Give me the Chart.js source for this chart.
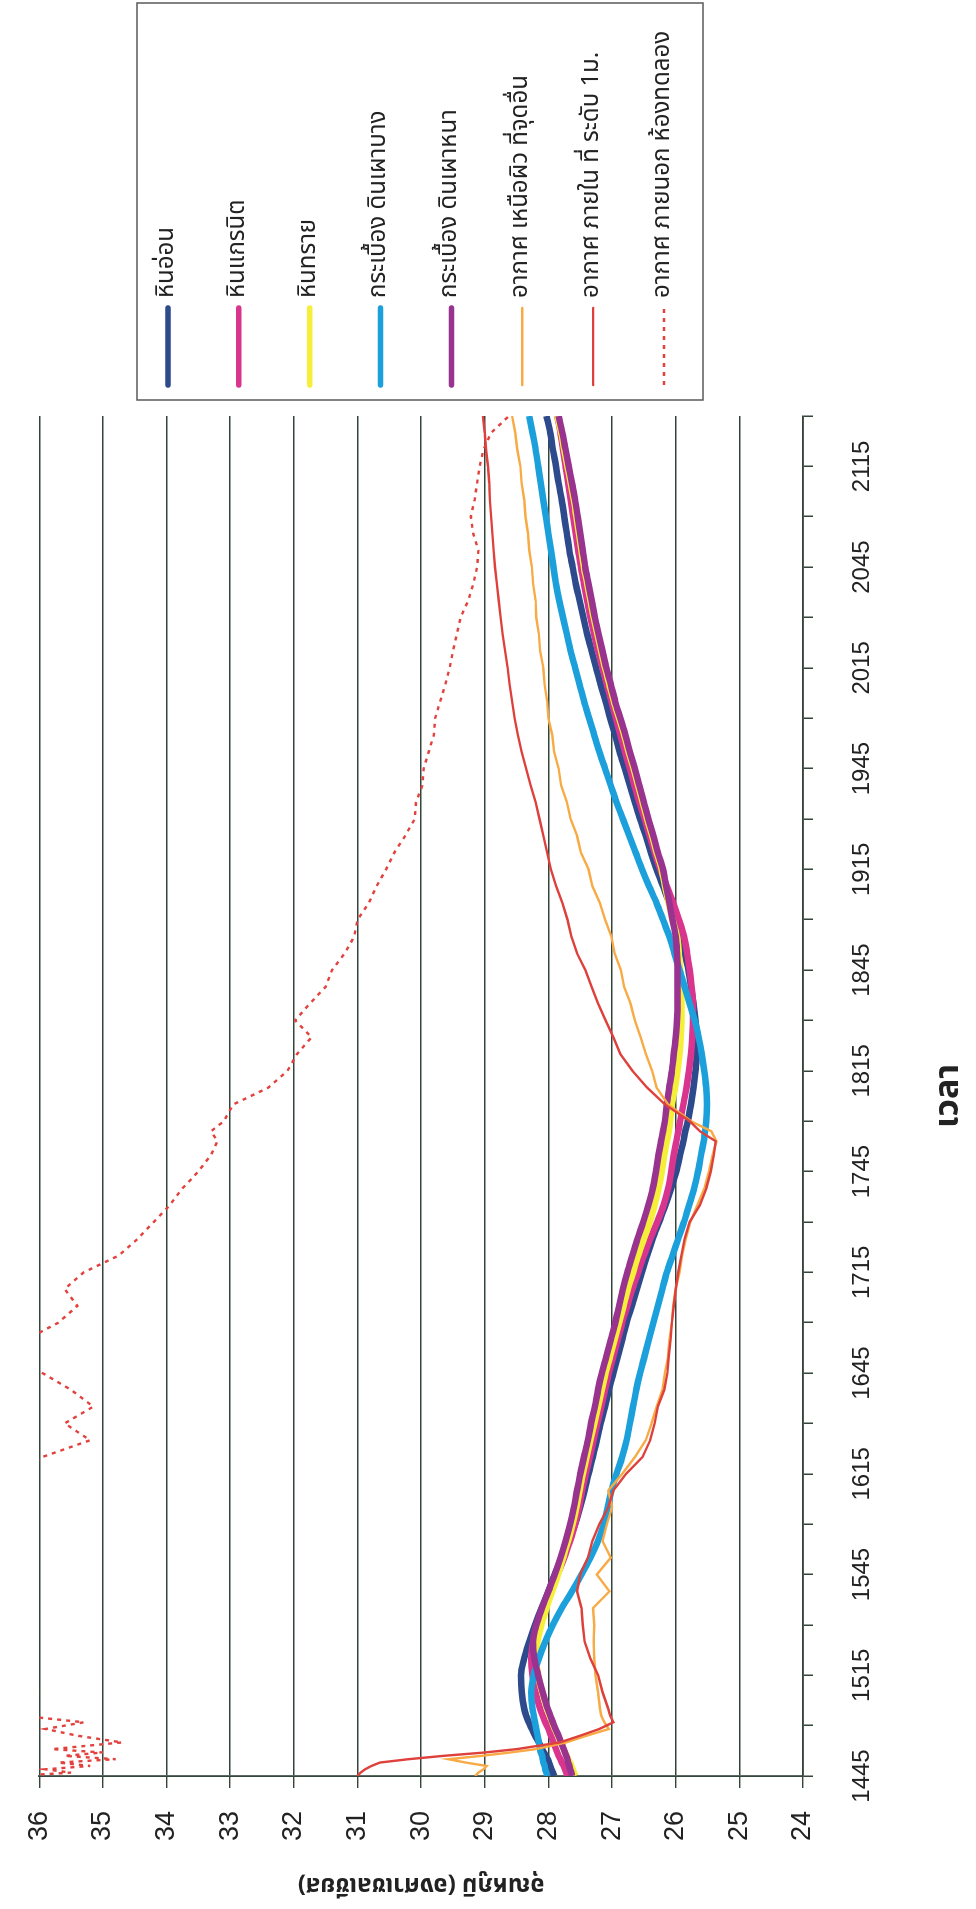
<!DOCTYPE html>
<html>
<head>
<meta charset="utf-8">
<title>อุณหภูมิ</title>
<script src="https://cdn.jsdelivr.net/npm/chart.js@4.4.0/dist/chart.umd.min.js"></script>
<style>
    html, body { margin: 0; padding: 0; background: #fff; overflow: hidden; }
    /* the chart is laid out landscape and turned a quarter to the left */
    #turn { position: absolute; left: 0; top: 0; width: 1909px; height: 976px;
            transform-origin: 0 0; transform: translateY(1909px) rotate(-90deg); }
</style>
</head>
<body>
<div id="turn"><canvas id="temp" width="1909" height="976"></canvas></div>
<script>
(function () {
    'use strict';

    // minutes after 14:45
    var minutes = [
        0, 1, 2, 3, 4, 5, 6, 7, 8,
        10, 12, 14, 16, 18, 20,
        25, 30, 35, 40, 45, 50, 55, 60, 65, 70,
        75, 80, 85, 90, 95, 100, 105, 110, 115, 120,
        125, 130, 135, 140, 145, 150, 155, 160, 165, 170,
        175, 180, 185, 189, 192, 195, 200, 205, 210, 215,
        220, 225, 230, 235, 240, 245, 250, 255, 260, 265,
        270, 275, 280, 285, 290, 295, 300, 305, 310, 315,
        320, 325, 330, 335, 340, 345, 350, 355, 360, 365,
        370, 375, 380, 385, 390, 395, 400, 405
    ];

    var timeTicks = ['1445', '1515', '1545', '1615', '1645', '1715', '1745',
                     '1815', '1845', '1915', '1945', '2015', '2045', '2115'];

    var marble = [
        27.91, 27.93, 27.95, 27.97, 27.99, 28.01, 28.04, 28.07, 28.10,
        28.15, 28.21, 28.26, 28.31, 28.35, 28.38,
        28.42, 28.43, 28.38, 28.30, 28.21, 28.11, 28.00, 27.90, 27.79, 27.68,
        27.58, 27.50, 27.43, 27.37, 27.30, 27.24, 27.18, 27.11, 27.05, 26.98,
        26.91, 26.84, 26.77, 26.69, 26.61, 26.53, 26.45, 26.36, 26.26, 26.16,
        26.07, 25.99, 25.93, 25.88, 25.85, 25.81, 25.76, 25.72, 25.69, 25.67,
        25.67, 25.69, 25.72, 25.76, 25.80, 25.86, 25.93, 26.01, 26.10, 26.20,
        26.30, 26.39, 26.47, 26.56, 26.64, 26.72, 26.80, 26.88, 26.95, 27.03,
        27.10, 27.18, 27.25, 27.32, 27.39, 27.45, 27.51, 27.57, 27.62, 27.67,
        27.71, 27.75, 27.79, 27.84, 27.88, 27.93, 27.97, 28.03
    ];

    var granite = [
        27.70, 27.72, 27.74, 27.76, 27.79, 27.81, 27.84, 27.86, 27.88,
        27.92, 27.96, 28.00, 28.05, 28.09, 28.13,
        28.20, 28.25, 28.27, 28.24, 28.18, 28.08, 27.97, 27.86, 27.75, 27.66,
        27.58, 27.52, 27.47, 27.41, 27.35, 27.29, 27.23, 27.17, 27.11, 27.05,
        26.98, 26.91, 26.84, 26.76, 26.68, 26.59, 26.50, 26.40, 26.29, 26.19,
        26.12, 26.07, 26.03, 25.99, 25.96, 25.93, 25.88, 25.83, 25.79, 25.76,
        25.74, 25.73, 25.73, 25.75, 25.78, 25.82, 25.87, 25.95, 26.04, 26.14,
        26.24, 26.33, 26.41, 26.49, 26.57, 26.65, 26.72, 26.80, 26.87, 26.94,
        27.01, 27.08, 27.15, 27.22, 27.28, 27.34, 27.39, 27.44, 27.49, 27.53,
        27.57, 27.61, 27.65, 27.69, 27.73, 27.77, 27.81, 27.86
    ];

    var sandstone = [
        27.58, 27.60, 27.62, 27.64, 27.66, 27.69, 27.71, 27.74, 27.76,
        27.80, 27.85, 27.90, 27.94, 27.98, 28.02,
        28.10, 28.16, 28.19, 28.17, 28.11, 28.03, 27.94, 27.85, 27.77, 27.69,
        27.62, 27.56, 27.51, 27.46, 27.40, 27.34, 27.28, 27.22, 27.16, 27.10,
        27.03, 26.96, 26.89, 26.82, 26.75, 26.67, 26.59, 26.50, 26.41, 26.33,
        26.27, 26.22, 26.18, 26.14, 26.11, 26.09, 26.06, 26.01, 25.97, 25.94,
        25.92, 25.91, 25.91, 25.92, 25.93, 25.95, 25.98, 26.05, 26.11, 26.17,
        26.22, 26.30, 26.37, 26.45, 26.52, 26.59, 26.66, 26.74, 26.81, 26.89,
        26.97, 27.04, 27.11, 27.17, 27.23, 27.29, 27.34, 27.39, 27.44, 27.48,
        27.52, 27.56, 27.60, 27.65, 27.70, 27.75, 27.80, 27.86
    ];

    var thinTile = [
        28.02, 28.03, 28.05, 28.06, 28.08, 28.09, 28.10, 28.12, 28.13,
        28.15, 28.17, 28.19, 28.21, 28.23, 28.25,
        28.27, 28.23, 28.15, 28.05, 27.93, 27.79, 27.63, 27.48, 27.34, 27.22,
        27.13, 27.07, 27.01, 26.93, 26.84, 26.77, 26.72, 26.67, 26.62, 26.56,
        26.49, 26.42, 26.35, 26.28, 26.21, 26.14, 26.05, 25.96, 25.87, 25.79,
        25.71, 25.65, 25.60, 25.56, 25.54, 25.52, 25.51, 25.52, 25.55, 25.59,
        25.64, 25.70, 25.78, 25.86, 25.94, 26.02, 26.10, 26.20, 26.30, 26.42,
        26.53, 26.63, 26.73, 26.83, 26.93, 27.02, 27.11, 27.20, 27.28, 27.36,
        27.44, 27.51, 27.58, 27.65, 27.71, 27.77, 27.83, 27.88, 27.92, 27.96,
        28.00, 28.04, 28.08, 28.12, 28.16, 28.20, 28.25, 28.30
    ];

    var thickTile = [
        27.63, 27.64, 27.66, 27.67, 27.69, 27.70, 27.72, 27.74, 27.76,
        27.80, 27.84, 27.89, 27.93, 27.97, 28.01,
        28.09, 28.16, 28.22, 28.24, 28.19, 28.10, 28.00, 27.90, 27.81, 27.73,
        27.66, 27.60, 27.55, 27.50, 27.44, 27.38, 27.33, 27.27, 27.22, 27.16,
        27.09, 27.02, 26.95, 26.89, 26.83, 26.76, 26.68, 26.60, 26.51, 26.43,
        26.36, 26.31, 26.27, 26.23, 26.20, 26.17, 26.14, 26.10, 26.06, 26.03,
        26.00, 25.98, 25.97, 25.97, 25.97, 25.98, 26.00, 26.05, 26.10, 26.15,
        26.20, 26.28, 26.35, 26.43, 26.50, 26.57, 26.64, 26.72, 26.79, 26.87,
        26.95, 27.02, 27.09, 27.15, 27.21, 27.27, 27.32, 27.37, 27.42, 27.46,
        27.50, 27.54, 27.58, 27.63, 27.68, 27.73, 27.78, 27.84
    ];

    var airSurface = [
        29.15, 29.10, 29.02, 28.97, 29.30, 29.57, 29.05, 28.60, 28.20,
        27.72, 27.40, 27.05, 27.12, 27.17, 27.19,
        27.22, 27.26, 27.28, 27.29, 27.28, 27.30, 27.04, 27.24, 27.02, 27.15,
        27.08, 27.00, 27.06, 26.84, 26.64, 26.47, 26.38, 26.30, 26.21, 26.17,
        26.12, 26.10, 26.06, 26.04, 26.00, 25.94, 25.90, 25.84, 25.77, 25.66,
        25.55, 25.48, 25.42, 25.36, 25.44, 25.76, 26.12, 26.30, 26.37, 26.47,
        26.55, 26.64, 26.71, 26.81, 26.86, 26.96, 27.01, 27.11, 27.19, 27.31,
        27.37, 27.49, 27.55, 27.65, 27.71, 27.80, 27.84, 27.91, 27.94, 28.00,
        28.02, 28.06, 28.08, 28.13, 28.15, 28.19, 28.20, 28.24, 28.26, 28.30,
        28.32, 28.36, 28.38, 28.42, 28.44, 28.49, 28.52, 28.57
    ];

    var airInside = [
        31.00, 30.95, 30.88, 30.78, 30.65, 30.20, 29.65, 29.00, 28.50,
        27.82, 27.50, 27.20, 26.98, 27.03, 27.06,
        27.15, 27.22, 27.34, 27.43, 27.46, 27.48, 27.55, 27.50, 27.38, 27.31,
        27.20, 27.06, 26.98, 26.78, 26.52, 26.40, 26.33, 26.28, 26.18, 26.13,
        26.11, 26.08, 26.06, 26.03, 26.00, 25.96, 25.91, 25.86, 25.78, 25.62,
        25.52, 25.45, 25.40, 25.37, 25.62, 25.78, 26.17, 26.45, 26.68, 26.87,
        26.98, 27.10, 27.22, 27.32, 27.42, 27.55, 27.64, 27.70, 27.78, 27.88,
        27.96, 28.02, 28.08, 28.14, 28.20, 28.28, 28.35, 28.42, 28.48, 28.53,
        28.57, 28.61, 28.64, 28.68, 28.72, 28.75, 28.78, 28.81, 28.84, 28.86,
        28.88, 28.90, 28.92, 28.93, 28.95, 28.98, 29.00, 29.03
    ];

    // readings above 36 run off the top of the plot
    var airOutside = [
        36.40, 35.50, 35.90, 35.20, 35.70, 34.80, 35.60, 35.00, 35.80,
        34.70, 35.40, 35.90, 35.30, 36.30, 36.60,
        36.00, 36.80, 37.00, 37.20, 37.30, 37.20, 37.40, 37.30, 37.10, 37.00,
        36.80, 36.60, 36.40, 36.30, 35.95, 35.20, 35.60, 35.15, 35.50, 35.95,
        36.40, 36.20, 35.70, 35.40, 35.60, 35.30, 34.75, 34.45, 34.20, 33.95,
        33.75, 33.50, 33.30, 33.20, 33.30, 33.10, 32.95, 32.40, 32.10, 31.95,
        31.72, 31.98, 31.75, 31.50, 31.40, 31.20, 31.05, 31.00, 30.82, 30.70,
        30.55, 30.42, 30.25, 30.10, 30.08, 29.98, 29.96, 29.88, 29.80, 29.78,
        29.70, 29.62, 29.55, 29.50, 29.44, 29.38, 29.26, 29.18, 29.12, 29.10,
        29.18, 29.22, 29.16, 29.12, 29.08, 29.02, 28.90, 28.62
    ];

    var seriesNames = [
        'หินอ่อน',
        'หินแกรนิต',
        'หินทราย',
        'กระเบื้อง ดินเผาบาง',
        'กระเบื้อง ดินเผาหนา',
        'อากาศ เหนือผิว ที่จุดอื่น',
        'อากาศ ภายใน ที่ ระดับ 1ม.',
        'อากาศ ภายนอก ห้องทดลอง'
    ];
    var seriesValues = [marble, granite, sandstone, thinTile, thickTile, airSurface, airInside, airOutside];
    var seriesColors = ['#2d4a8c', '#d9358e', '#f5ef3a', '#1ca0dc', '#98338f', '#f8aa45', '#de403c', '#e2413d'];
    var seriesWidths = [6.5, 6.5, 6.5, 6.5, 6.5, 2.4, 2.4, 2.4];

    var axisColor = '#34453b';
    var thaiFont = '"Noto Sans Thai", "Noto Sans", "DejaVu Sans", sans-serif';
    var numFont = '"Liberation Sans", Arial, sans-serif';

    var datasets = seriesValues.map(function (values, i) {
        var thick = seriesWidths[i] > 4;
        return {
            label: seriesNames[i],
            data: values,
            borderColor: seriesColors[i],
            backgroundColor: seriesColors[i],
            borderWidth: seriesWidths[i],
            borderDash: i === 7 ? [4, 5] : [],
            cubicInterpolationMode: thick ? 'monotone' : 'default',
            tension: 0,
            pointRadius: 0,
            clip: 0,
            order: seriesValues.length - i
        };
    });

    // legend: framed box to the right of the plot, line sample + name per series
    var legendBox = {
        id: 'legendBox',
        afterDraw: function (chart) {
            var ctx = chart.ctx;
            var left = chart.chartArea.right + 16;
            var right = chart.width - 3;
            var top = 137, bottom = 703;
            var step = (bottom - top - 70) / (chart.data.datasets.length - 1);

            ctx.save();
            ctx.strokeStyle = '#5a5a5a';
            ctx.lineWidth = 1.5;
            ctx.strokeRect(left, top, right - left, bottom - top);

            chart.data.datasets.forEach(function (ds, i) {
                var y = top + 31 + i * step;
                ctx.beginPath();
                ctx.setLineDash(ds.borderDash);
                ctx.strokeStyle = ds.borderColor;
                ctx.lineWidth = ds.borderWidth > 4 ? 5.5 : ds.borderWidth;
                ctx.lineCap = ds.borderDash.length ? 'butt' : 'round';
                ctx.moveTo(left + 15, y);
                ctx.lineTo(left + 92, y);
                ctx.stroke();
                ctx.setLineDash([]);

                ctx.fillStyle = '#222';
                ctx.font = '24px ' + thaiFont;
                ctx.textBaseline = 'middle';
                ctx.textAlign = 'left';
                ctx.fillText(ds.label, left + 102, y);
            });
            ctx.restore();
        }
    };

    new Chart(document.getElementById('temp'), {
        type: 'line',
        data: {
            labels: minutes,
            datasets: datasets
        },
        options: {
            responsive: false,
            animation: false,
            events: [],
            layout: { padding: { top: 26, right: 416, bottom: 0, left: 0 } },
            plugins: {
                legend: { display: false },
                tooltip: { enabled: false }
            },
            scales: {
                x: {
                    type: 'linear',
                    min: 0,
                    max: 405,
                    afterFit: function (scale) { scale.height = 173; },
                    ticks: {
                        stepSize: 15,
                        autoSkip: false,
                        maxRotation: 0,
                        padding: 35,
                        color: '#222',
                        font: { family: numFont, size: 24 },
                        callback: function (value) {
                            return value % 30 === 0 ? timeTicks[value / 30] : '';
                        }
                    },
                    grid: {
                        drawOnChartArea: false,
                        tickLength: 10,
                        color: axisColor,
                        lineWidth: 1.5
                    },
                    border: { color: axisColor, width: 1.8 },
                    title: {
                        display: true,
                        text: 'เวลา',
                        color: '#222',
                        font: { family: thaiFont, size: 34, weight: 'bold' },
                        padding: { top: 0, bottom: 4 }
                    }
                },
                y: {
                    min: 24,
                    max: 36,
                    afterFit: function (scale) { scale.width = 133; },
                    ticks: {
                        stepSize: 1,
                        padding: 23,
                        color: '#222',
                        font: { family: numFont, size: 27 }
                    },
                    grid: {
                        color: axisColor,
                        lineWidth: 1.4,
                        tickLength: 12
                    },
                    border: { color: axisColor, width: 1.8 },
                    title: {
                        display: true,
                        text: 'อุณหภูมิ (องศาเซลเซียส)',
                        color: '#222',
                        font: { family: thaiFont, size: 24, weight: 'bold' },
                        padding: { top: 12, bottom: 0 }
                    }
                }
            }
        },
        plugins: [legendBox]
    });
})();
</script>
</body>
</html>
